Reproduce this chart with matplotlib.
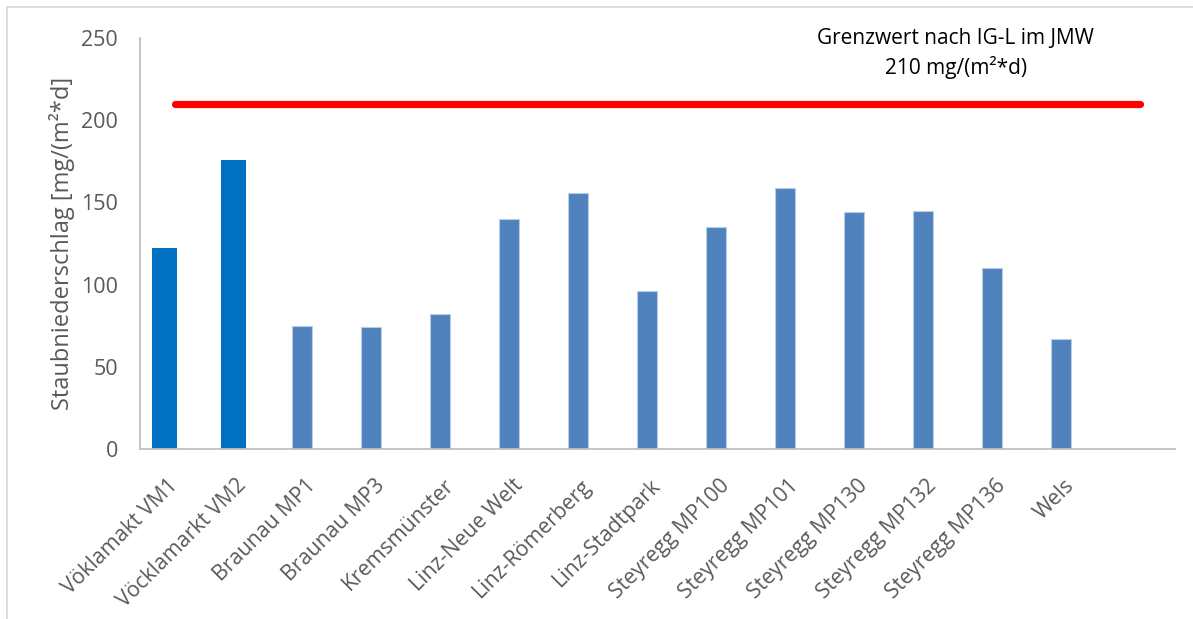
import numpy as np
import matplotlib as mpl
mpl.use('Agg')
import matplotlib.pyplot as plt
from matplotlib.patches import Rectangle

# data
stations = ['Vöklamakt VM1', 'Vöcklamarkt VM2', 'Braunau MP1', 'Braunau MP3',
            'Kremsmünster', 'Linz-Neue Welt', 'Linz-Römerberg', 'Linz-Stadtpark',
            'Steyregg MP100', 'Steyregg MP101', 'Steyregg MP130', 'Steyregg MP132',
            'Steyregg MP136', 'Wels']
dust = [122, 176, 75, 74, 82, 140, 156, 96, 135, 159, 144, 145, 110, 67]
highlight = [True, True] + [False] * 12
limit_value = 210
limit_text = 'Grenzwert nach IG-L im JMW\n210 mg/(m²*d)'
y_ticks = [0, 50, 100, 150, 200, 250]

plt.rcParams['font.family'] = ['Open Sans', 'DejaVu Sans']
grey = '#595959'

fig = plt.figure(figsize=(11.93, 6.19), dpi=100)
ax = fig.add_axes([0.1174, 0.2746, 0.8675, 0.664])

x = np.arange(len(stations))
offset = -0.15
for xi, val, hl in zip(x, dust, highlight):
    if hl:
        ax.bar(xi + offset, val, width=0.36, color='#0070C0', zorder=2)
    else:
        ax.bar(xi + offset, val, width=0.29, color='#4F81BD',
               edgecolor='#B9CDE5', linewidth=0.8, zorder=2)

ax.plot([0, len(stations)], [limit_value, limit_value], color='#FF0000',
        lw=5.2, solid_capstyle='round', zorder=3)
ax.text(11.32, 240.5, limit_text, ha='center', va='center', fontsize=15,
        color='black', linespacing=1.35, clip_on=False)

ax.set_xlim(-0.5, len(stations) + 0.5)
ax.set_ylim(0, 250)
ax.set_yticks(y_ticks)
ax.tick_params(axis='y', length=0, pad=16, labelsize=15.5, labelcolor=grey)
ax.set_xticks(x)
ax.set_xticklabels(stations, rotation=45, ha='right', va='center',
                   rotation_mode='anchor', fontsize=15.3, color=grey)
ax.tick_params(axis='x', length=0, pad=24)

ax.set_ylabel('Staubniederschlag [mg/(m²*d]', fontsize=17, color=grey, labelpad=4)

for side in ['top', 'right']:
    ax.spines[side].set_visible(False)
ax.spines['left'].set_color('#BFBFBF')
ax.spines['bottom'].set_color('#BFBFBF')
ax.spines['left'].set_linewidth(1.3)
ax.spines['bottom'].set_linewidth(1.3)

fig.patches.append(Rectangle((7 / 1193, -0.05), 1.1, 1.05 - 7 / 619,
                             transform=fig.transFigure, fill=False,
                             edgecolor='#D9D9D9', linewidth=1.3))

plt.savefig('out.png', dpi=100)
